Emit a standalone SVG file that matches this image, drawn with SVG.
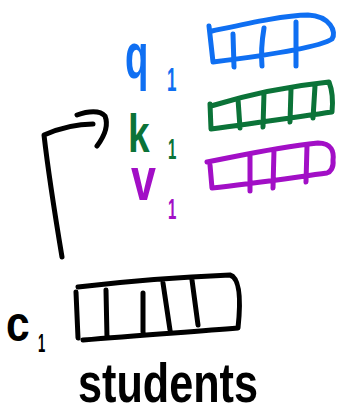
<svg xmlns="http://www.w3.org/2000/svg" width="337" height="416" viewBox="0 0 337 416">
<style>
.ln{fill:none;stroke-width:5;stroke-linecap:round;stroke-linejoin:round}
.blue{stroke:#0f6ff2}.green{stroke:#0b7338}.purple{stroke:#a20fc6}.black{stroke:#000}
.t{font-family:"Liberation Sans","DejaVu Sans",sans-serif;font-weight:bold}
</style>
<rect width="337" height="416" fill="#fff"/>
<g id="q1">
<text class="t" x="125" y="78" font-size="64" fill="#0f6ff2" transform="translate(125 78) scale(0.6 1) translate(-125 -78)">q</text>
<text class="t" x="167" y="91" font-size="34" fill="#0f6ff2" transform="translate(167 91) scale(0.5 1) translate(-167 -91)">1</text>
<path class="ln blue" d="M209,26 L213,62 M212,31 C245,24 285,15 308,15 C330,16 337,32 332,39 C320,47 270,55 213,62 M233,34 L234,67 M264,28 C262,40 261,55 262,66 M296,22 L296,66"/>
</g>
<g id="k1">
<text class="t" x="128" y="152" font-size="54" fill="#0b7338" transform="translate(128 152) scale(0.72 1) translate(-128 -152)">k</text>
<text class="t" x="168" y="159" font-size="30" fill="#0b7338" transform="translate(168 159) scale(0.5 1) translate(-168 -159)">1</text>
<path class="ln green" d="M210,104 L211,129 M211,106 C250,94 290,86 329,82 C333,92 333,102 332,112 C290,118 250,124 211,129 M238,99 L240,128 M264,93 L263,127 M291,89 L290,122 M315,86 L313,118"/>
</g>
<g id="v1">
<text class="t" x="131" y="200" font-size="56" fill="#a20fc6" transform="translate(131 200) scale(0.8 1.1) translate(-131 -200)">v</text>
<text class="t" x="168" y="219" font-size="30" fill="#a20fc6" transform="translate(168 219) scale(0.5 1) translate(-168 -219)">1</text>
<path class="ln purple" d="M207,162 C230,158 270,148 318,143 C332,143 334,152 333,160 C334,168 330,172 327,173 C290,178 250,184 212,188 L210,165 M250,155 L250,191 M274,150 L273,188 M307,146 L306,182"/>
</g>
<g id="c1">
<text class="t" x="6" y="341" font-size="50" fill="#000" transform="translate(6 341) scale(0.85 1) translate(-6 -341)">c</text>
<text class="t" x="38" y="352" font-size="26" fill="#000" transform="translate(38 352) scale(0.5 1) translate(-38 -352)">1</text>
<path class="ln black" d="M78,287 C120,282 180,277 230,275 C240,278 241,300 238,328 C190,332 140,335 83,340 M76,292 L78,338 M106,290 L107,338 M143,293 L143,332 M163,283 L170,330 M192,280 L198,325"/>
<text class="t" x="78" y="402" font-size="56" fill="#000" textLength="180" lengthAdjust="spacingAndGlyphs">students</text>
</g>
<g id="connectors">
<path class="ln black" stroke-width="6" d="M62,257 C55,215 48,170 44,135 C60,128 78,124 93,124"/>
<path class="ln black" stroke-width="6" d="M77,115 C88,111 100,110 105,116 C109,126 103,138 97,146"/>
</g>
</svg>
